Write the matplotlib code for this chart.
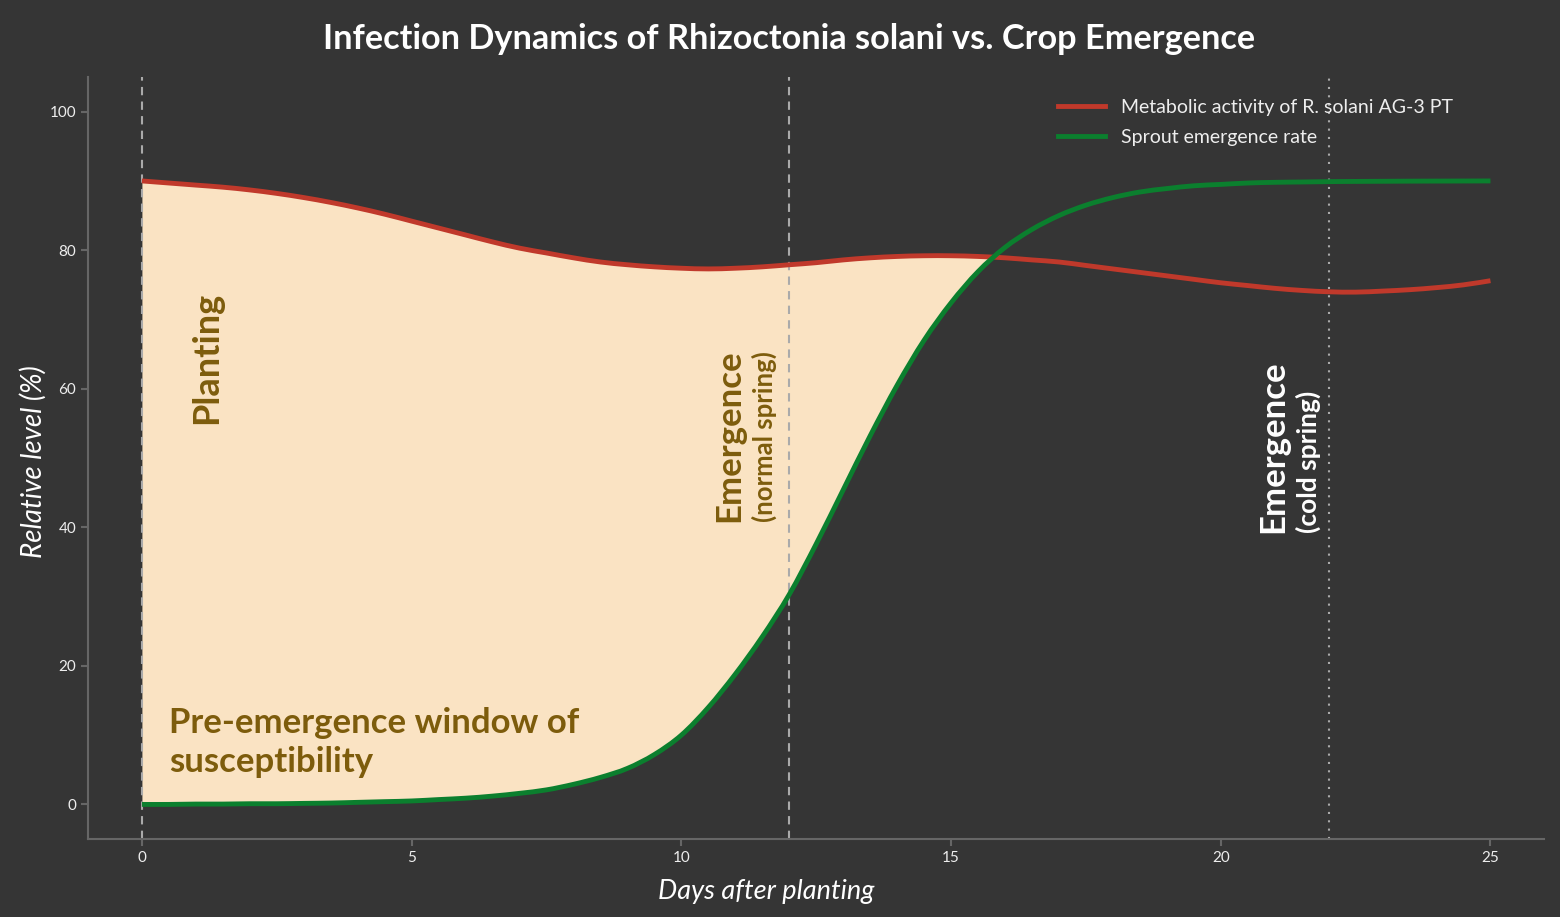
import matplotlib
matplotlib.use("Agg")
import matplotlib.pyplot as plt
from matplotlib.path import Path
from matplotlib.patches import PathPatch
from matplotlib.lines import Line2D
import numpy as np

days = [i * 0.5 for i in range(51)]
metabolic = [90.0, 89.7, 89.4, 89.1, 88.7, 88.2, 87.6, 86.9, 86.1, 85.2,
             84.2, 83.2, 82.2, 81.2, 80.3, 79.6, 78.9, 78.3, 77.9, 77.6,
             77.4, 77.3, 77.4, 77.6, 77.9, 78.2, 78.6, 78.9, 79.1, 79.2,
             79.2, 79.1, 78.9, 78.6, 78.3, 77.8, 77.3, 76.8, 76.3, 75.8,
             75.3, 74.9, 74.5, 74.2, 74.0, 73.95, 74.1, 74.3, 74.6, 75.0, 75.6]
emergence = [0.0, 0.0, 0.05, 0.05, 0.1, 0.1, 0.15, 0.2, 0.3, 0.4,
             0.5, 0.7, 0.9, 1.2, 1.6, 2.1, 2.9, 3.9, 5.2, 7.2,
             10.0, 14.0, 18.8, 24.2, 30.3, 37.6, 45.4, 53.2, 60.5, 67.0,
             72.4, 76.9, 80.4, 83.0, 85.0, 86.5, 87.6, 88.4, 88.9, 89.3,
             89.5, 89.7, 89.8, 89.85, 89.9, 89.93, 89.95, 89.97, 89.98, 89.99, 90.0]

title = "Infection Dynamics of Rhizoctonia solani vs. Crop Emergence"
label_red = "Metabolic activity of R. solani AG-3 PT"
label_green = "Sprout emergence rate"
planting_day = 0
normal_emergence_day = 12
cold_emergence_day = 22

BG = "#353535"
RED = "#c0392b"
GREEN = "#0b7f2e"
FILL = "#fae3c3"
GOLD = "#7d5c0c"
FONT = "Lato"

plt.rcParams['font.family'] = [FONT, 'DejaVu Sans']


def smooth_path(xs, ys):
    """Catmull-Rom spline rendered as cubic Bezier segments through the data points."""
    P = np.column_stack([xs, ys])
    n = len(P)
    verts = [P[0]]
    codes = [Path.MOVETO]
    for i in range(n - 1):
        p0 = P[i - 1] if i > 0 else P[i]
        p1 = P[i]
        p2 = P[i + 1]
        p3 = P[i + 2] if i + 2 < n else P[i + 1]
        c1 = p1 + (p2 - p0) / 6.0
        c2 = p2 - (p3 - p1) / 6.0
        verts += [c1, c2, p2]
        codes += [Path.CURVE4] * 3
    return Path(verts, codes)


fig = plt.figure(figsize=(15.6, 9.17), dpi=100, facecolor=BG)
ax = fig.add_axes([0.0564, 0.085, 0.9336, 0.831])
ax.set_facecolor(BG)

x = np.array(days)
r = np.array(metabolic)
g = np.array(emergence)

ax.fill_between(x, g, r, where=r >= g, interpolate=True, color=FILL, lw=0, zorder=1)
ax.add_patch(PathPatch(smooth_path(x, r), fill=False, edgecolor=RED, lw=3.5, zorder=3,
                       capstyle='butt'))
ax.add_patch(PathPatch(smooth_path(x, g), fill=False, edgecolor=GREEN, lw=3.5, zorder=3,
                       capstyle='butt'))

ax.axvline(planting_day, color="#aaaaaa", ls=(0, (4, 3)), lw=1.5, zorder=2)
ax.axvline(normal_emergence_day, color="#aaaaaa", ls=(0, (4, 3)), lw=1.5, zorder=2)
ax.axvline(cold_emergence_day, color="#aaaaaa", ls=(0, (1, 3)), lw=1.5, zorder=2)

ax.set_xlim(-1, 26)
ax.set_ylim(-5, 105)
ax.set_xticks([0, 5, 10, 15, 20, 25])
ax.set_yticks([0, 20, 40, 60, 80, 100])

for s in ['top', 'right']:
    ax.spines[s].set_visible(False)
for s in ['left', 'bottom']:
    ax.spines[s].set_color("#666666")
    ax.spines[s].set_linewidth(1.5)
ax.tick_params(colors="#666666", labelcolor="#eeeeee", labelsize=11, length=5, width=1.5)

ax.set_xlabel("Days after planting", color="white", fontsize=19.5, style='italic',
              labelpad=10, x=0.466)
ax.set_ylabel("Relative level (%)", color="white", fontsize=20, style='italic',
              labelpad=2, y=0.495)

fig.text(0.506, 0.957, title, ha='center', va='center', color='white',
         fontsize=24.7, fontweight='bold')

ax.text(1.2, 64.4, "Planting", rotation=90, ha='center', va='center',
        color=GOLD, fontsize=26, fontweight='bold')

ax.text(0.5, 9.0, "Pre-emergence window of\nsusceptibility", ha='left', va='center',
        color=GOLD, fontsize=25, fontweight='bold', linespacing=1.27)

ax.text(10.88, 40.8, "Emergence", rotation=90, ha='center', va='bottom',
        color=GOLD, fontsize=25, fontweight='bold')
ax.text(11.53, 40.8, "(normal spring)", rotation=90, ha='center', va='bottom',
        color=GOLD, fontsize=18.5, fontweight='bold')

ax.text(20.98, 39.25, "Emergence", rotation=90, ha='center', va='bottom',
        color='white', fontsize=25, fontweight='bold')
ax.text(21.63, 39.25, "(cold spring)", rotation=90, ha='center', va='bottom',
        color='white', fontsize=19, fontweight='bold')

handles = [Line2D([], [], color=RED, lw=3.5), Line2D([], [], color=GREEN, lw=3.5)]
leg = ax.legend(handles, [label_red, label_green], loc='upper left',
                bbox_to_anchor=(0.661, 0.982), frameon=False,
                fontsize=14, labelcolor='#eeeeee', handlelength=2.4, handletextpad=0.8,
                labelspacing=0.7, borderaxespad=0.0)

fig.savefig("out.png", dpi=100, facecolor=BG)
